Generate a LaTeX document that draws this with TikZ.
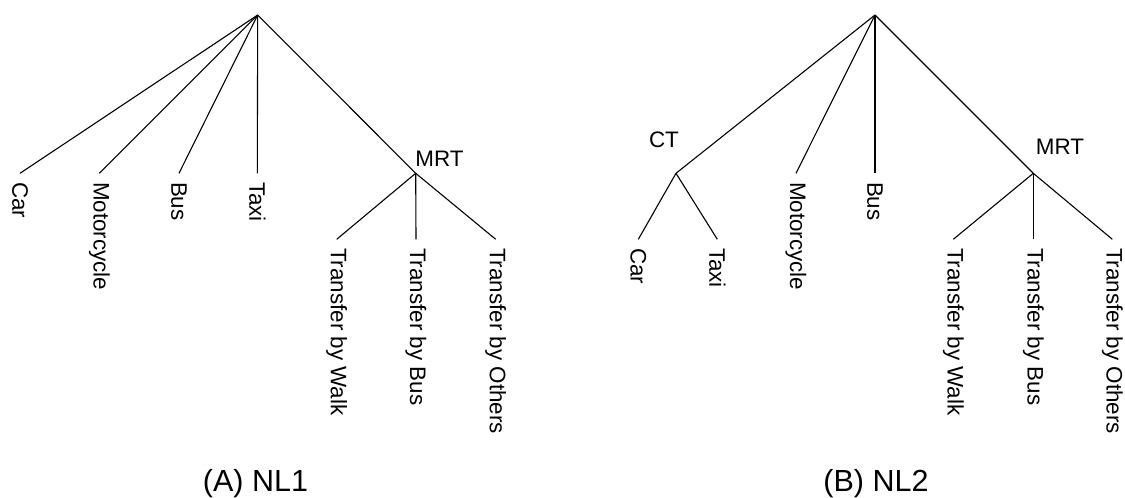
\documentclass[tikz,border=0pt]{standalone}
\usepackage{fontspec}
\setmainfont{Liberation Sans}
\begin{document}
\begin{tikzpicture}[x=1pt,y=-1pt,
  edge/.style={draw=black,line width=1.1pt},
  leaf/.style={rotate=-90,anchor=west,inner xsep=8.5pt,inner ysep=0pt,font=\fontsize{22.4}{26}\selectfont},
  nestlab/.style={anchor=base,inner sep=0pt,font=\fontsize{22.4}{26}\selectfont},
  caption/.style={anchor=base,inner sep=0pt,font=\fontsize{30.5}{36}\selectfont}]
\useasboundingbox (0,0) rectangle (1125,498);
% ---------- (A) NL1 ----------
\coordinate (rA) at (257.7,15);
\coordinate (mrtA) at (415.7,173.3);
\node[leaf] (carA) at (20,173.3) {Car};
\node[leaf] (motoA) at (99.3,173.3) {Motorcycle};
\node[leaf] (busA) at (179,173.3) {Bus};
\node[leaf] (taxiA) at (257.3,173.3) {Taxi};
\node[leaf] (walkA) at (336.7,239.3) {Transfer by Walk};
\node[leaf] (tbusA) at (416,239.3) {Transfer by Bus};
\node[leaf] (othA) at (495.7,239.3) {Transfer by Others};
\node[nestlab] (mrtAl) at (439.5,166) {MRT};
\draw[edge] (rA) -- (carA.west);
\draw[edge] (rA) -- (motoA.west);
\draw[edge] (rA) -- (busA.west);
\draw[edge] (rA) -- (taxiA.west);
\draw[edge] (rA) -- (mrtA);
\draw[edge] (mrtA) -- (walkA.west);
\draw[edge] (mrtA) -- (tbusA.west);
\draw[edge] (mrtA) -- (othA.west);
\node[caption] (capA) at (255.5,491) {(A) NL1};
% ---------- (B) NL2 ----------
\coordinate (rB) at (875,15);
\coordinate (ctB) at (676,173.3);
\coordinate (mrtB) at (1033.3,173.3);
\node[leaf] (motoB) at (796,173.3) {Motorcycle};
\node[leaf] (busB) at (875,173.3) {Bus};
\node[leaf] (carB) at (638.3,239.3) {Car};
\node[leaf] (taxiB) at (717.3,239.3) {Taxi};
\node[leaf] (walkB) at (953.3,239.3) {Transfer by Walk};
\node[leaf] (tbusB) at (1033.3,239.3) {Transfer by Bus};
\node[leaf] (othB) at (1112.3,239.3) {Transfer by Others};
\node[nestlab] (ctBl) at (664,147) {CT};
\node[nestlab] (mrtBl) at (1060,154.5) {MRT};
\draw[edge] (rB) -- (ctB);
\draw[edge] (rB) -- (motoB.west);
\draw[edge] (rB) -- (busB.west);
\draw[edge] (rB) -- (mrtB);
\draw[edge] (ctB) -- (carB.west);
\draw[edge] (ctB) -- (taxiB.west);
\draw[edge] (mrtB) -- (walkB.west);
\draw[edge] (mrtB) -- (tbusB.west);
\draw[edge] (mrtB) -- (othB.west);
\node[caption] (capB) at (876,491) {(B) NL2};
\end{tikzpicture}
\end{document}
